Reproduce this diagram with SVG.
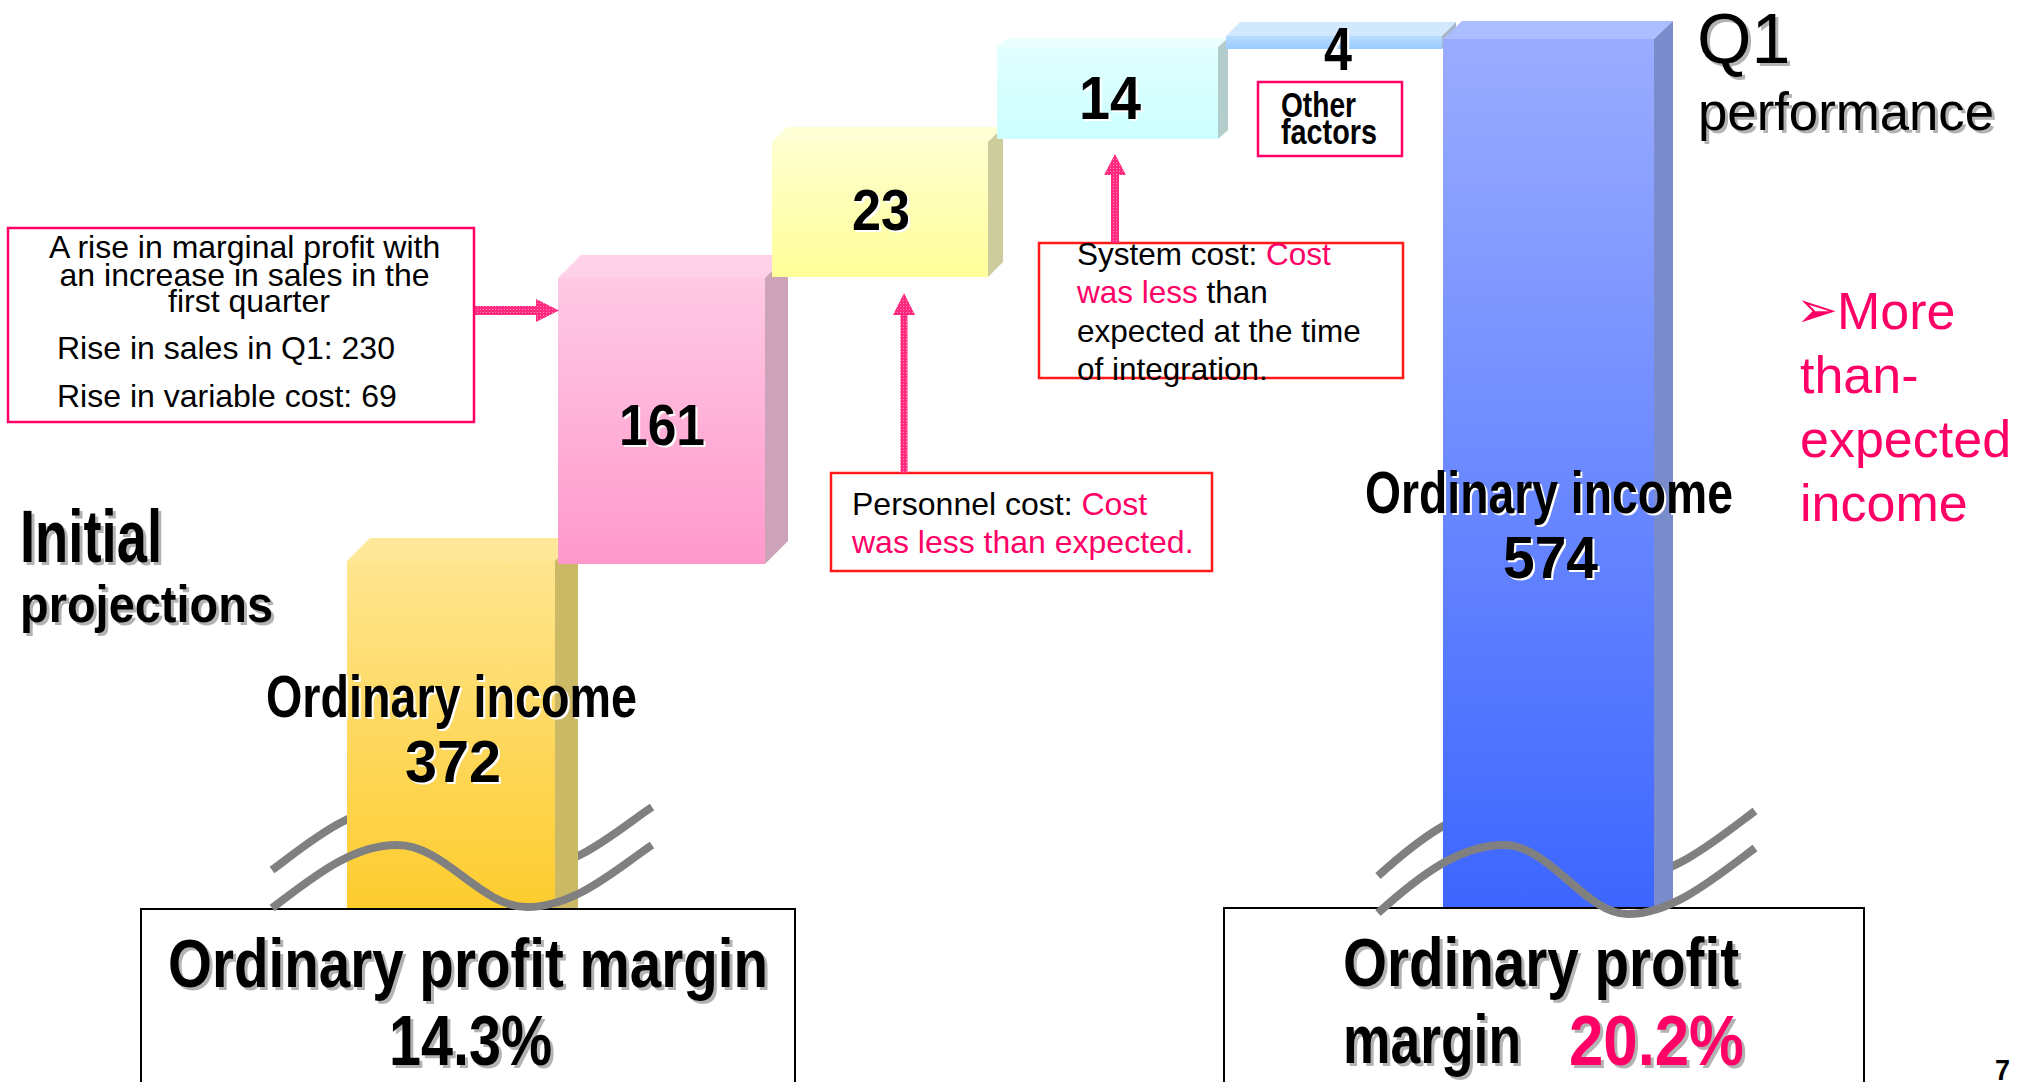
<svg xmlns="http://www.w3.org/2000/svg" xmlns:xlink="http://www.w3.org/1999/xlink" width="2033" height="1082" viewBox="0 0 2033 1082">
  <style>
    .sans{font-family:"Liberation Sans",Arial,sans-serif}
    .goth{font-family:"Liberation Sans",Arial,sans-serif;font-weight:bold}
    .note{font-family:"Liberation Sans",Arial,sans-serif;font-size:32px;fill:#000}
    .hl{fill:#ff0066}
    .sh{fill:#b3b3b3}
    .wsh{fill:#fff}
    .ink{fill:#000}
    .brk{fill:none;stroke:#808080;stroke-width:8}
    .frame{fill:#fff;stroke:#000;stroke-width:2}
    .pinkbox{fill:#fff;stroke:#ff0066;stroke-width:2.5}
    .redbox{fill:none;stroke:#ff1a1a;stroke-width:2.5}
    .arrow{fill:url(#dots)}
  </style>
  <defs>
    <linearGradient id="gYellow" x1="0" y1="0" x2="0" y2="1">
      <stop offset="0" stop-color="#ffe58f"/><stop offset="1" stop-color="#fdcc2e"/>
    </linearGradient>
    <linearGradient id="gPink" x1="0" y1="0" x2="0" y2="1">
      <stop offset="0" stop-color="#ffc9e4"/><stop offset="1" stop-color="#ff99cb"/>
    </linearGradient>
    <linearGradient id="gLemon" x1="0" y1="0" x2="0" y2="1">
      <stop offset="0" stop-color="#ffffcf"/><stop offset="1" stop-color="#ffff99"/>
    </linearGradient>
    <linearGradient id="gCyan" x1="0" y1="0" x2="0" y2="1">
      <stop offset="0" stop-color="#e2ffff"/><stop offset="1" stop-color="#ccffff"/>
    </linearGradient>
    <linearGradient id="gSky" x1="0" y1="0" x2="0" y2="1">
      <stop offset="0" stop-color="#b8dcff"/><stop offset="1" stop-color="#99ccff"/>
    </linearGradient>
    <linearGradient id="gBlue" x1="0" y1="0" x2="0" y2="1">
      <stop offset="0" stop-color="#9aacff"/><stop offset="1" stop-color="#3d66ff"/>
    </linearGradient>
    <pattern id="dots" width="3" height="3" patternUnits="userSpaceOnUse">
      <rect width="3" height="3" fill="#ff2a7f"/><rect width="1" height="1" fill="#ff8ab8"/>
    </pattern>

    <!-- shared label texts, drawn twice (shadow + face) -->
    <text id="tInitial" class="goth" x="20" y="562" font-size="74" textLength="142" lengthAdjust="spacingAndGlyphs">Initial</text>
    <text id="tProj" class="goth" x="20" y="622" font-size="52" textLength="253" lengthAdjust="spacingAndGlyphs">projections</text>
    <text id="tOiL" class="goth" x="266" y="717" font-size="60" textLength="371" lengthAdjust="spacingAndGlyphs">Ordinary income</text>
    <text id="t372" class="goth" x="405" y="782" font-size="60" textLength="96" lengthAdjust="spacingAndGlyphs">372</text>
    <text id="tOiR" class="goth" x="1365" y="513" font-size="60" textLength="368" lengthAdjust="spacingAndGlyphs">Ordinary income</text>
    <text id="t574" class="goth" x="1503" y="578" font-size="60" textLength="95" lengthAdjust="spacingAndGlyphs">574</text>
    <text id="t161" class="goth" x="619" y="445" font-size="58" textLength="86" lengthAdjust="spacingAndGlyphs">161</text>
    <text id="t23" class="goth" x="852" y="230" font-size="58" textLength="58" lengthAdjust="spacingAndGlyphs">23</text>
    <text id="t14" class="goth" x="1079" y="119" font-size="62" textLength="62" lengthAdjust="spacingAndGlyphs">14</text>
    <text id="t4" class="goth" x="1324" y="70" font-size="61" textLength="28" lengthAdjust="spacingAndGlyphs">4</text>
    <text id="tOpmL" class="goth" x="168" y="987" font-size="68" textLength="600" lengthAdjust="spacingAndGlyphs">Ordinary profit margin</text>
    <text id="t143" class="goth" x="389" y="1065" font-size="70" textLength="163" lengthAdjust="spacingAndGlyphs">14.3%</text>
    <text id="tOpR" class="goth" x="1343" y="986" font-size="68" textLength="396" lengthAdjust="spacingAndGlyphs">Ordinary profit</text>
    <text id="tMarg" class="goth" x="1343" y="1063" font-size="68" textLength="178" lengthAdjust="spacingAndGlyphs">margin</text>
    <text id="t202" class="goth" x="1569" y="1065" font-size="70" textLength="175" lengthAdjust="spacingAndGlyphs">20.2%</text>
    <text id="tQ1" class="sans" x="1697" y="63" font-size="70">Q1</text>
    <text id="tPerf" class="sans" x="1698" y="130" font-size="53" textLength="296" lengthAdjust="spacingAndGlyphs">performance</text>
  </defs>

  <rect width="2033" height="1082" fill="#fff"/>

  <!-- break marks, rear strokes (pass behind the bars) -->
  <g id="break-rear">
    <path class="brk" d="M272,870 C310,842 350,807 397,807 C445,807 480,869 527,869 C575,869 615,832 652,807"/>
    <path class="brk" d="M1378,876 C1420,838 1460,808 1504,808 C1550,808 1585,877 1628,877 C1672,877 1715,841 1755,811"/>
  </g>

  <!-- initial projection bar -->
  <g id="bar-initial">
    <polygon points="347,561 370,538 578,538 555,561" fill="#ffe899"/>
    <polygon points="555,561 578,538 578,908 555,908" fill="#ccb966"/>
    <rect x="347" y="561" width="208" height="347" fill="url(#gYellow)"/>
  </g>

  <!-- step: marginal profit +161 -->
  <g id="step-161">
    <polygon points="558,278 581,255 788,255 765,278" fill="#ffd1e8"/>
    <polygon points="765,278 788,255 788,541 765,564" fill="#cca3b9"/>
    <rect x="558" y="278" width="207" height="286" fill="url(#gPink)"/>
    <use href="#t161" class="wsh" x="2" y="2"/>
    <use href="#t161" class="ink"/>
  </g>

  <!-- step: personnel cost +23 -->
  <g id="step-23">
    <polygon points="772,142 787,127 1003,127 988,142" fill="#ffffd6"/>
    <polygon points="988,142 1003,127 1003,262 988,277" fill="#cccc9c"/>
    <rect x="772" y="142" width="216" height="135" fill="url(#gLemon)"/>
    <use href="#t23" class="wsh" x="2" y="2"/>
    <use href="#t23" class="ink"/>
  </g>

  <!-- step: system cost +14 -->
  <g id="step-14">
    <polygon points="997,47 1007,38 1228,38 1218,47" fill="#ecffff"/>
    <polygon points="1218,47 1228,38 1228,130 1218,139" fill="#b3cccc"/>
    <rect x="997" y="47" width="221" height="92" fill="url(#gCyan)"/>
    <use href="#t14" class="wsh" x="2" y="2"/>
    <use href="#t14" class="ink"/>
  </g>

  <!-- step: other factors +4 -->
  <g id="step-4">
    <polygon points="1226,36 1240,22 1456,22 1442,36" fill="#d2e8fd"/>
    <polygon points="1442,36 1456,22 1456,35 1442,49" fill="#a6b6c6"/>
    <rect x="1226" y="36" width="216" height="13" fill="url(#gSky)"/>
  </g>

  <!-- Q1 result bar -->
  <g id="bar-q1">
    <polygon points="1443,39 1462,21 1673,21 1654,39" fill="#abbcff"/>
    <polygon points="1654,39 1673,21 1673,908 1654,908" fill="#7a8ccc"/>
    <rect x="1443" y="39" width="211" height="869" fill="url(#gBlue)"/>
  </g>

  <g id="label-4">
    <use href="#t4" class="wsh" x="2" y="2"/>
    <use href="#t4" class="ink"/>
  </g>

  <!-- bottom margin panels -->
  <g id="panel-initial">
    <rect class="frame" x="141" y="909" width="654" height="185"/>
    <use href="#tOpmL" class="sh" x="3" y="3"/>
    <use href="#tOpmL" class="ink"/>
    <use href="#t143" class="sh" x="3" y="3"/>
    <use href="#t143" class="ink"/>
  </g>
  <g id="panel-q1">
    <rect class="frame" x="1224" y="908" width="640" height="186"/>
    <use href="#tOpR" class="sh" x="3" y="3"/>
    <use href="#tOpR" class="ink"/>
    <use href="#tMarg" class="sh" x="3" y="3"/>
    <use href="#tMarg" class="ink"/>
    <use href="#t202" class="sh" x="3" y="3"/>
    <use href="#t202" class="hl"/>
  </g>

  <!-- break marks, front strokes -->
  <g id="break-front">
    <path class="brk" d="M272,908 C310,880 350,845 397,845 C445,845 480,907 527,907 C575,907 615,870 652,845"/>
    <path class="brk" d="M1378,913 C1420,875 1460,845 1504,845 C1550,845 1585,914 1628,914 C1672,914 1715,878 1755,848"/>
  </g>

  <!-- bar value labels -->
  <g id="label-initial">
    <use href="#tOiL" class="wsh" x="2" y="2"/>
    <use href="#tOiL" class="ink"/>
    <use href="#t372" class="wsh" x="2" y="2"/>
    <use href="#t372" class="ink"/>
  </g>
  <g id="label-q1">
    <use href="#tOiR" class="wsh" x="2" y="2"/>
    <use href="#tOiR" class="ink"/>
    <use href="#t574" class="wsh" x="2" y="2"/>
    <use href="#t574" class="ink"/>
  </g>

  <!-- headings -->
  <g id="heading-initial">
    <use href="#tInitial" class="sh" x="3" y="3"/>
    <use href="#tInitial" class="ink"/>
    <use href="#tProj" class="sh" x="3" y="3"/>
    <use href="#tProj" class="ink"/>
  </g>
  <g id="heading-q1">
    <use href="#tQ1" class="sh" x="3" y="3"/>
    <use href="#tQ1" class="ink"/>
    <use href="#tPerf" class="sh" x="3" y="3"/>
    <use href="#tPerf" class="ink"/>
  </g>

  <!-- explanation notes -->
  <g id="note-marginal">
    <rect class="pinkbox" x="8" y="228" width="466" height="194"/>
    <text class="note" text-anchor="middle">
      <tspan x="249" y="258">A rise in marginal profit with</tspan>
      <tspan x="249" y="286">an increase in sales in the</tspan>
      <tspan x="249" y="312">first quarter</tspan>
    </text>
    <text class="note" x="57" y="359">Rise in sales in Q1: 230</text>
    <text class="note" x="57" y="407">Rise in variable cost: 69</text>
  </g>

  <g id="note-personnel">
    <rect class="redbox" x="831" y="473" width="381" height="98"/>
    <text class="note" x="852" y="515">Personnel cost: <tspan class="hl">Cost</tspan></text>
    <text class="note hl" x="852" y="553">was less than expected.</text>
  </g>

  <g id="note-system">
    <rect class="redbox" x="1039" y="243" width="364" height="135"/>
    <text class="note" style="font-size:31.5px">
      <tspan x="1077" y="265">System cost: <tspan class="hl">Cost</tspan></tspan>
      <tspan x="1077" y="303"><tspan class="hl">was less</tspan> than</tspan>
      <tspan x="1077" y="342">expected at the time</tspan>
      <tspan x="1077" y="380">of integration.</tspan>
    </text>
  </g>

  <g id="note-other">
    <rect class="pinkbox" x="1258" y="82" width="144" height="74"/>
    <text class="goth" x="1281" y="117" font-size="35" textLength="75" lengthAdjust="spacingAndGlyphs">Other</text>
    <text class="goth" x="1281" y="144" font-size="35" textLength="96" lengthAdjust="spacingAndGlyphs">factors</text>
  </g>

  <g id="note-result">
    <text class="sans hl" x="1796" y="327" font-size="50" style="font-family:'DejaVu Sans',sans-serif">➢</text>
    <text class="sans hl" x="1837" y="329" font-size="52">More</text>
    <text class="sans hl" x="1800" y="393" font-size="52">than-</text>
    <text class="sans hl" x="1800" y="457" font-size="52">expected</text>
    <text class="sans hl" x="1800" y="521" font-size="52">income</text>
  </g>

  <g id="page-number">
    <text class="goth" x="1995" y="1080" font-size="30" textLength="15" lengthAdjust="spacingAndGlyphs">7</text>
  </g>

  <!-- connectors -->
  <g id="connectors">
    <polygon class="arrow" points="475,306 536,306 536,299 559,310.5 536,322 536,315 475,315"/>
    <polygon class="arrow" points="900.5,473 900.5,315 893,315 904,293 915,315 907.5,315 907.5,473"/>
    <polygon class="arrow" points="1111,243 1111,175 1104,175 1115,154 1126,175 1119,175 1119,243"/>
  </g>
</svg>
